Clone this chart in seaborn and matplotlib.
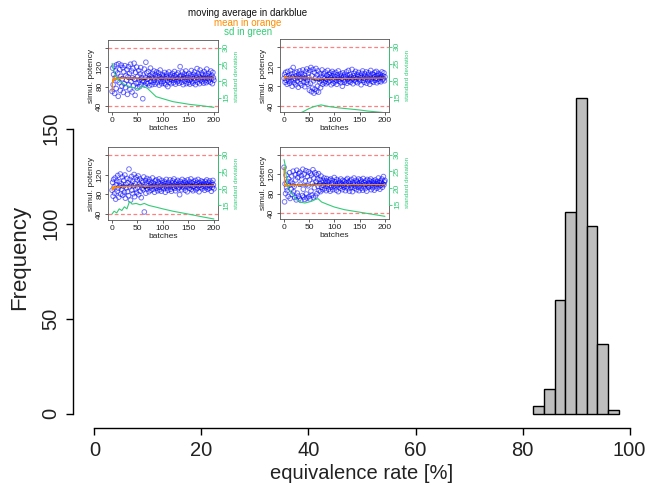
import numpy as np
import pandas as pd
import seaborn as sns
import matplotlib
matplotlib.use("Agg")
import matplotlib.pyplot as plt

# histogram of equivalence rates (bin edges in %, counts)
bin_edges = [82, 84, 86, 88, 90, 92, 94, 96, 98]
bin_counts = [4, 13, 60, 106, 166, 99, 37, 2]

# four example simulation runs: simulated potency per batch (1..200)
potency_1 = [70, 118, 84, 105, 122, 66, 98, 112, 76, 125,
             92, 108, 60, 127, 88, 115, 72, 101, 124, 81,
             96, 119, 68, 110, 86, 123, 78, 103, 93, 115,
             64, 100, 121, 84, 107, 74, 126, 90, 112, 69,
             98, 117, 82, 128, 95, 62, 109, 87, 120, 77,
             101, 88, 113, 94, 80, 106, 119, 85, 98, 92,
             55, 104, 90, 116, 83, 99, 130, 87, 108, 95,
             86, 111, 97, 82, 103, 118, 91, 100, 84, 107,
             96, 89, 112, 93, 85, 105, 99, 110, 88, 102,
             94, 108, 83, 100, 114, 90, 97, 86, 104, 99,
             91, 103, 87, 109, 96, 84, 101, 106, 92, 80,
             98, 110, 89, 95, 104, 86, 100, 93, 107, 97,
             88, 102, 111, 94, 85, 99, 105, 90, 96, 108,
             92, 87, 101, 121, 97, 103, 89, 110, 95, 84,
             100, 106, 91, 98, 112, 86, 104, 94, 99, 88,
             107, 93, 85, 102, 96, 113, 90, 100, 87, 105,
             97, 110, 92, 84, 103, 99, 117, 89, 95, 106,
             101, 86, 114, 93, 98, 108, 90, 104, 96, 87,
             111, 99, 92, 105, 88, 116, 97, 102, 91, 107,
             94, 100, 89, 112, 96, 103, 86, 109, 98, 93]
potency_2 = [96, 104, 88, 108, 92, 100, 84, 110, 95, 90,
             102, 86, 98, 112, 91, 105, 80, 99, 118, 93,
             87, 107, 95, 83, 101, 109, 90, 97, 78, 104,
             99, 111, 85, 94, 106, 82, 100, 113, 89, 96,
             103, 79, 97, 110, 88, 115, 93, 84, 107, 98,
             72, 112, 86, 118, 69, 101, 76, 114, 91, 66,
             108, 74, 97, 116, 70, 103, 80, 111, 68, 95,
             89, 106, 77, 100, 92, 113, 84, 98, 105, 87,
             96, 109, 90, 85, 102, 94, 112, 88, 99, 104,
             91, 107, 97, 83, 101, 110, 93, 86, 106, 95,
             100, 89, 108, 92, 84, 103, 97, 111, 90, 99,
             94, 105, 87, 101, 96, 80, 107, 93, 100, 88,
             104, 91, 98, 109, 86, 102, 95, 112, 90, 97,
             103, 88, 99, 93, 114, 96, 85, 101, 106, 92,
             98, 110, 89, 95, 104, 87, 100, 108, 94, 91,
             102, 97, 83, 106, 99, 111, 92, 96, 88, 105,
             100, 93, 109, 86, 98, 103, 91, 107, 95, 84,
             101, 112, 94, 90, 105, 97, 88, 103, 99, 108,
             92, 96, 110, 87, 102, 94, 106, 90, 100, 97,
             104, 89, 98, 109, 93, 101, 95, 107, 91, 99]
potency_3 = [88, 104, 76, 110, 95, 82, 113, 70, 99, 107,
             86, 118, 92, 74, 105, 97, 121, 80, 101, 90,
             115, 78, 96, 108, 84, 119, 72, 100, 93, 112,
             85, 103, 77, 131, 95, 110, 68, 99, 116, 88,
             106, 81, 97, 120, 75, 102, 90, 114, 83, 109,
             94, 117, 79, 100, 111, 86, 98, 73, 107, 92,
             104, 89, 115, 44, 96, 108, 82, 101, 112, 91,
             97, 106, 85, 110, 93, 100, 88, 104, 96, 113,
             90, 102, 98, 84, 107, 95, 109, 92, 99, 87,
             105, 94, 111, 89, 101, 97, 86, 108, 93, 103,
             99, 91, 106, 96, 84, 102, 110, 93, 98, 88,
             104, 95, 100, 109, 90, 97, 86, 103, 107, 94,
             98, 111, 92, 101, 87, 105, 96, 99, 108, 91,
             102, 94, 79, 106, 97, 100, 89, 110, 95, 103,
             93, 99, 107, 88, 104, 96, 101, 85, 109, 97,
             100, 92, 105, 98, 111, 90, 103, 95, 87, 106,
             96, 101, 93, 108, 89, 99, 104, 92, 110, 97,
             85, 103, 98, 94, 107, 100, 91, 105, 96, 102,
             99, 88, 106, 93, 101, 109, 95, 90, 104, 98,
             92, 107, 97, 100, 86, 103, 94, 108, 99, 91]
potency_4 = [134, 63, 100, 80, 118, 92, 86, 105, 74, 110,
             97, 123, 70, 104, 89, 116, 78, 100, 126, 84,
             95, 72, 119, 108, 67, 128, 81, 113, 75, 121,
             70, 124, 99, 66, 117, 110, 76, 130, 89, 73,
             120, 68, 106, 127, 79, 71, 115, 96, 125, 74,
             108, 69, 122, 85, 118, 77, 101, 129, 72, 112,
             92, 123, 75, 104, 119, 80, 110, 95, 121, 86,
             100, 109, 84, 116, 93, 103, 88, 107, 97, 112,
             90, 101, 106, 86, 111, 95, 99, 104, 89, 108,
             97, 85, 110, 93, 102, 107, 88, 100, 95, 113,
             92, 104, 98, 87, 109, 96, 101, 84, 106, 99,
             103, 91, 110, 95, 100, 88, 107, 97, 93, 105,
             99, 86, 102, 108, 94, 111, 90, 104, 97, 85,
             106, 100, 92, 109, 96, 84, 103, 98, 112, 91,
             101, 95, 107, 88, 104, 99, 93, 110, 86, 102,
             97, 108, 91, 105, 100, 87, 111, 94, 103, 98,
             90, 106, 99, 85, 109, 96, 102, 93, 107, 100,
             95, 110, 88, 104, 98, 92, 106, 101, 87, 103,
             108, 96, 100, 91, 105, 99, 112, 94, 102, 89,
             106, 97, 103, 110, 93, 100, 115, 98, 104, 107]

# standard deviation curves (batch, sd)
sd_batch_1 = [1, 4, 8, 14, 21, 30, 41, 54, 60, 70, 87, 100, 120, 152, 175, 200]
sd_value_1 = [25.3, 23.5, 21.3, 20.2, 19.3, 18.6, 18.1, 17.5, 18.6, 17.8, 15.3, 14.7, 13.8, 13.0, 12.6, 12.1]
sd_batch_2 = [1, 20, 40, 50, 60, 74, 90, 110, 130, 150, 165, 200]
sd_value_2 = [8.5, 9.5, 10.9, 11.7, 12.3, 12.8, 12.3, 11.9, 11.6, 11.3, 11.0, 10.5]
sd_batch_3 = [1, 5, 10, 15, 20, 25, 30, 33, 35, 40, 48, 56, 64, 73, 87, 100, 120, 152, 175, 200]
sd_value_3 = [12.5, 13.3, 12.8, 14.0, 13.5, 14.6, 14.0, 15.3, 16.2, 15.4, 15.6, 15.2, 15.6, 15.0, 14.5, 14.0, 13.3, 12.4, 11.7, 11.0]
sd_batch_4 = [1, 3, 5, 9, 15, 19, 25, 29, 35, 42, 50, 55, 62, 68, 75, 88, 100, 120, 140, 160, 180, 200]
sd_value_4 = [28.5, 27, 24, 20.5, 18.5, 17.8, 16.5, 16.3, 15.7, 15.5, 15.8, 16.0, 16.5, 16.8, 15.8, 15.0, 14.3, 13.5, 13.0, 12.5, 12.0, 11.5]

W, H = 650, 495
green = "#33CC77"

sns.set_theme(style="ticks")
plt.rcParams["font.family"] = ["Liberation Sans", "DejaVu Sans"]

fig = plt.figure(figsize=(6.5, 4.95), dpi=100)

def px_axes(x0, y0, x1, y1):
    # axes from pixel box (top-left origin)
    return fig.add_axes([x0 / W, 1 - y1 / H, (x1 - x0) / W, (y1 - y0) / H])

# main histogram
ax = px_axes(73, 86, 651, 428)
centers = [(a + b) / 2 for a, b in zip(bin_edges[:-1], bin_edges[1:])]
sns.histplot(x=centers, weights=bin_counts, bins=bin_edges, color="#BEBEBE",
             edgecolor="black", linewidth=1, alpha=1, ax=ax)
ax.set_xlim(-4, 104)
ax.set_ylim(-7.4, 172.4)
for s in ["top", "right"]:
    ax.spines[s].set_visible(False)
ax.spines["left"].set_bounds(0, 150)
ax.spines["bottom"].set_bounds(0, 100)
for s in ["left", "bottom"]:
    ax.spines[s].set_color("black")
    ax.spines[s].set_linewidth(1)
ax.set_xticks([0, 20, 40, 60, 80, 100])
ax.set_yticks([0, 50, 100, 150])
ax.tick_params(axis="both", length=5, width=1, color="black", labelsize=14.5, labelcolor="#222222")
ax.tick_params(axis="x", pad=4.5)
ax.tick_params(axis="y", pad=4)
for lab in ax.get_yticklabels():
    lab.set_rotation(90)
    lab.set_va("center")
ax.set_xlabel("equivalence rate [%]", fontsize=14.5, labelpad=3, color="#222222")
ax.set_ylabel("Frequency", fontsize=16, labelpad=8, color="#222222")

# small run plots
boxes = [(108, 40, 218, 112), (280, 39, 389, 112), (108, 147, 218, 220), (280, 147, 389, 219)]
runs = [potency_1, potency_2, potency_3, potency_4]
sds = [(sd_batch_1, sd_value_1), (sd_batch_2, sd_value_2),
       (sd_batch_3, sd_value_3), (sd_batch_4, sd_value_4)]

for box, pot, (sdb, sdv) in zip(boxes, runs, sds):
    iax = px_axes(*box)
    df = pd.DataFrame({"batch": np.arange(1, len(pot) + 1), "potency": pot})
    df["mov"] = df["potency"].rolling(10, min_periods=1).mean()
    df["mean"] = df["potency"].expanding().mean()
    iax.axhline(40, color="#FF5555", alpha=0.75, lw=0.9, ls=(0, (3, 2)))
    iax.axhline(160, color="#FF5555", alpha=0.75, lw=0.9, ls=(0, (3, 2)))
    sns.scatterplot(data=df, x="batch", y="potency", ax=iax, marker="o",
                    facecolor="none", edgecolor="blue", alpha=0.55, s=11, linewidth=0.7)
    sns.lineplot(data=df, x="batch", y="mov", ax=iax, color="darkblue", lw=0.5, alpha=0.7)
    sns.lineplot(data=df, x="batch", y="mean", ax=iax, color="darkorange", lw=0.8)
    iax.set_xlim(-7, 208)
    iax.set_ylim(27.7, 175.8)
    iax.set_xticks([0, 50, 100, 150, 200])
    iax.set_yticks([40, 80, 120, 160])
    iax.set_yticklabels(["40", "80", "120", ""])
    iax.tick_params(length=2.5, width=0.6, labelsize=6, pad=1, color="#444444", labelcolor="#222222")
    for lab in iax.get_yticklabels():
        lab.set_rotation(90)
        lab.set_va("center")
    for s in iax.spines.values():
        s.set_color("#555555")
        s.set_linewidth(0.6)
    iax.set_xlabel("batches", fontsize=6, labelpad=0.5, color="#222222")
    iax.set_ylabel("simul. potency", fontsize=6, labelpad=1, color="#222222")

    tax = iax.twinx()
    sns.lineplot(x=sdb, y=sdv, ax=tax, color=green, lw=0.8)
    tax.set_ylim(10.7, 32.3)
    tax.set_yticks([15, 20, 25, 30])
    for s in ["top", "left", "bottom"]:
        tax.spines[s].set_visible(False)
    tax.spines["right"].set_bounds(15, 30)
    tax.spines["right"].set_color(green)
    tax.spines["right"].set_linewidth(0.6)
    tax.tick_params(axis="y", length=2.5, width=0.6, labelsize=6, pad=1, color=green, labelcolor=green)
    for lab in tax.get_yticklabels():
        lab.set_rotation(90)
        lab.set_va("center")
    tax.set_ylabel("standard deviation", fontsize=4.5, color=green, labelpad=3)

fig.text(248 / W, 1 - 13 / H, "moving average in darkblue", ha="center", va="center", fontsize=7, color="#111111")
fig.text(248 / W, 1 - 22.5 / H, "mean in orange", ha="center", va="center", fontsize=7, color="darkorange")
fig.text(248 / W, 1 - 32 / H, "sd in green", ha="center", va="center", fontsize=7, color=green)

fig.savefig("out.png", dpi=100)
